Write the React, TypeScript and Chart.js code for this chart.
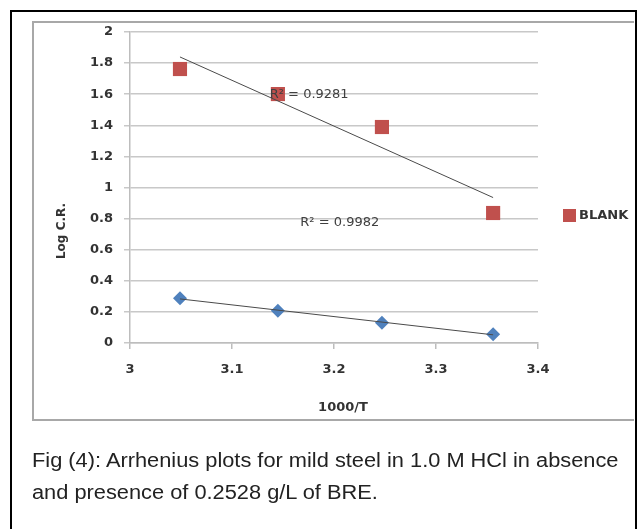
import React, { useEffect, useRef } from "react";
import { Chart, registerables } from "chart.js";

Chart.register(...registerables);

// ---- data ----
const invTemp = [3.049, 3.145, 3.247, 3.356]; // 1000/T
const logCRBlank = [1.762, 1.601, 1.389, 0.836];
const logCRBre = [0.287, 0.208, 0.131, 0.056];
const xTickValues = [3, 3.1, 3.2, 3.3, 3.4];
const yTickValues = [0, 0.2, 0.4, 0.6, 0.8, 1, 1.2, 1.4, 1.6, 1.8, 2];
const seriesNames = ["BLANK", "BRE"];
const r2Texts = ["R² = 0.9281", "R² = 0.9982"];
const r2AnchorX = [3.137, 3.167];
const r2AnchorY = [1.595, 0.772];
const xTitle = "1000/T";
const yTitle = "Log C.R.";
const captionLines = [
  "Fig (4): Arrhenius plots for mild steel in 1.0 M HCl in absence",
  "and presence of 0.2528 g/L of BRE.",
];

const RED = "#c0504d";
const BLUE = "#4f81bd";
const TREND = "#4a4a4a";

function linreg(xs: number[], ys: number[]) {
  const n = xs.length;
  const mx = xs.reduce((a, b) => a + b, 0) / n;
  const my = ys.reduce((a, b) => a + b, 0) / n;
  let sxy = 0, sxx = 0;
  for (let i = 0; i < n; i++) {
    sxy += (xs[i] - mx) * (ys[i] - my);
    sxx += (xs[i] - mx) * (xs[i] - mx);
  }
  const m = sxy / sxx;
  const b = my - m * mx;
  return (x: number) => m * x + b;
}

function trendPoints(xs: number[], ys: number[]) {
  const f = linreg(xs, ys);
  const x0 = xs[0];
  const x1 = xs[xs.length - 1];
  return [
    { x: x0, y: f(x0) },
    { x: x1, y: f(x1) },
  ];
}

const overlayPlugin = {
  id: "overlay",
  afterDatasetsDraw(chart: any) {
    const { ctx, scales } = chart;
    const x = scales.x;
    const y = scales.y;
    ctx.save();
    ctx.textBaseline = "middle";
    ctx.textAlign = "left";
    ctx.font = '13px "DejaVu Sans"';
    ctx.fillStyle = "#404040";
    r2Texts.forEach((t, i) => {
      ctx.fillText(t, x.getPixelForValue(r2AnchorX[i]), y.getPixelForValue(r2AnchorY[i]));
    });
    // legend (BLANK only)
    ctx.fillStyle = RED;
    ctx.fillRect(563, 209, 13, 13);
    ctx.font = 'bold 13px "DejaVu Sans"';
    ctx.fillStyle = "#333333";
    ctx.fillText(seriesNames[0], 579, 216);
    // x title
    ctx.textAlign = "center";
    ctx.fillText(xTitle, 343, 408);
    // y title
    ctx.font = 'bold 12px "DejaVu Sans"';
    ctx.translate(62, 231);
    ctx.rotate(-Math.PI / 2);
    ctx.fillText(yTitle, 0, 0);
    ctx.restore();
  },
};

export default function App() {
  const canvasRef = useRef<HTMLCanvasElement | null>(null);

  useEffect(() => {
    const canvas = canvasRef.current;
    if (!canvas) return;
    const chart = new Chart(canvas, {
      type: "scatter",
      data: {
        datasets: [
          {
            type: "line",
            label: "trend-blank",
            data: trendPoints(invTemp, logCRBlank),
            borderColor: TREND,
            borderWidth: 1,
            pointRadius: 0,
            fill: false,
            order: 0,
          },
          {
            type: "line",
            label: "trend-bre",
            data: trendPoints(invTemp, logCRBre),
            borderColor: TREND,
            borderWidth: 1,
            pointRadius: 0,
            fill: false,
            order: 0,
          },
          {
            label: seriesNames[0],
            data: invTemp.map((v, i) => ({ x: v, y: logCRBlank[i] })),
            pointStyle: "rect",
            pointRadius: 10,
            backgroundColor: RED,
            borderColor: RED,
            borderWidth: 0,
            order: 1,
          },
          {
            label: seriesNames[1],
            data: invTemp.map((v, i) => ({ x: v, y: logCRBre[i] })),
            pointStyle: "rectRot",
            pointRadius: 7,
            backgroundColor: BLUE,
            borderColor: BLUE,
            borderWidth: 0,
            order: 1,
          },
        ],
      },
      options: {
        responsive: false,
        animation: false,
        events: [],
        layout: { padding: { left: 0, top: 32, right: 102, bottom: 0 } },
        plugins: {
          legend: { display: false },
          tooltip: { enabled: false },
        },
        scales: {
          x: {
            type: "linear",
            min: 3,
            max: 3.4,
            afterFit: (s: any) => {
              s.height = 186;
            },
            afterBuildTicks: (s: any) => {
              s.ticks = xTickValues.map((v) => ({ value: v }));
            },
            ticks: {
              callback: (v: any) => String(Math.round(Number(v) * 10) / 10),
              font: { family: "DejaVu Sans", size: 13, weight: "bold" },
              color: "#333333",
              padding: 13,
              maxRotation: 0,
            },
            grid: {
              drawOnChartArea: false,
              drawTicks: true,
              tickLength: 6,
              color: "#bdbdbd",
              lineWidth: 1.5,
            },
            border: { display: true, color: "#bdbdbd", width: 1.5 },
            title: { display: false },
          },
          y: {
            type: "linear",
            min: 0,
            max: 2,
            afterFit: (s: any) => {
              s.width = 130;
            },
            afterBuildTicks: (s: any) => {
              s.ticks = yTickValues.map((v) => ({ value: v }));
            },
            ticks: {
              callback: (v: any) => String(Math.round(Number(v) * 10) / 10),
              font: { family: "DejaVu Sans", size: 13, weight: "bold" },
              color: "#333333",
              padding: 11,
            },
            grid: {
              drawOnChartArea: true,
              drawTicks: true,
              tickLength: 6,
              color: "#c8c8c8",
              lineWidth: 1.5,
            },
            border: { display: true, color: "#bdbdbd", width: 1.5 },
            title: { display: false },
          },
        },
      },
      plugins: [overlayPlugin],
    });
    return () => chart.destroy();
  }, []);

  return (
    <div
      style={{
        position: "absolute",
        left: 0,
        top: 0,
        width: 640,
        height: 529,
        overflow: "hidden",
        background: "#ffffff",
      }}
    >
      <div
        style={{
          position: "absolute",
          left: 10,
          top: 10,
          width: 623,
          height: 560,
          border: "2px solid #000000",
        }}
      />
      <div
        style={{
          position: "absolute",
          left: 32,
          top: 21,
          width: 600,
          height: 396,
          border: "2px solid #a8a8a8",
          borderRight: "none",
        }}
      />
      <canvas
        ref={canvasRef}
        width={640}
        height={529}
        style={{ position: "absolute", left: 0, top: 0, width: 640, height: 529 }}
      />
      <div
        style={{
          position: "absolute",
          left: 32,
          top: 444,
          fontFamily: '"Liberation Sans", Arial, sans-serif',
          fontSize: 19.5,
          lineHeight: "32px",
          color: "#222222",
          whiteSpace: "nowrap",
          transform: "scaleX(1.118)",
          transformOrigin: "0 0",
        }}
      >
        {captionLines.map((l, i) => (
          <div key={i}>{l}</div>
        ))}
      </div>
    </div>
  );
}
